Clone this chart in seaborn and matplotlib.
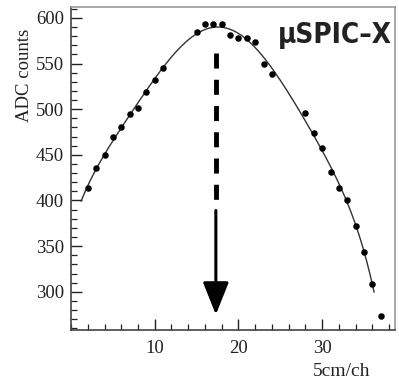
import numpy as np
import pandas as pd
import matplotlib
matplotlib.use('Agg')
import matplotlib.pyplot as plt
import seaborn as sns
from matplotlib.ticker import MultipleLocator

# channel (5cm/ch) and ADC counts
channel = [2, 3, 4, 5, 6, 7, 8, 9, 10, 11, 15, 16, 17, 18, 19, 20, 21, 22, 23, 24,
           28, 29, 30, 31, 32, 33, 34, 35, 36, 37]
adc = [414, 436, 450, 469, 481, 495, 501, 519, 532, 545, 584, 593, 593, 593, 581,
       578, 578, 574, 550, 538, 496, 474, 458, 431, 414, 400, 372, 344, 309, 273]

peak_pos = 17.3
label = '\u03bcSPIC\u2013X'

df = pd.DataFrame({'ch': channel, 'adc': adc})

# smooth fit through the points (last point is off the fit)
coef = np.polyfit(df['ch'][:-1], df['adc'][:-1], 6)
xf = np.linspace(1.2, 36.2, 200)
fit = pd.DataFrame({'ch': xf, 'adc': np.polyval(coef, xf)})

sns.set_style('ticks')
plt.rcParams['font.family'] = ['Liberation Serif', 'DejaVu Serif']

fig = plt.figure(figsize=[3.99, 3.83], dpi=100)
ax = fig.add_axes([0.178, 0.138, 0.812, 0.844])

sns.lineplot(data=fit, x='ch', y='adc', ax=ax, color='#333333', lw=1.0)
sns.scatterplot(data=df, x='ch', y='adc', ax=ax, color='black', s=22,
                edgecolor='black', linewidth=0, zorder=3)

# dashed marker + arrow at the peak
ax.plot([peak_pos, peak_pos], [561, 400], color='black', lw=3.5,
        ls=(0, (3.1, 2.3)), solid_capstyle='butt')
ax.annotate('', xy=(peak_pos, 275), xytext=(peak_pos, 389),
            arrowprops=dict(arrowstyle='-|>,head_length=1.0,head_width=0.4',
                            mutation_scale=20, lw=2.2, color='black',
                            shrinkA=0, shrinkB=0))

ax.set_xlim(0, 38.7)
ax.set_ylim(258, 612)
ax.set_xticks([10, 20, 30])
ax.xaxis.set_minor_locator(MultipleLocator(2))
ax.set_yticks([300, 350, 400, 450, 500, 550, 600])
ax.yaxis.set_minor_locator(MultipleLocator(10))
ax.tick_params(which='both', direction='in', top=False, right=False,
               colors='#222222', labelsize=13.5)
ax.tick_params(which='major', length=8, width=1.0, pad=5)
ax.tick_params(which='minor', length=4.5, width=0.9)
ax.tick_params(axis='x', pad=7)
for s in ['left', 'bottom']:
    ax.spines[s].set_color('#444444')
    ax.spines[s].set_linewidth(1.2)
for s in ['top', 'right']:
    ax.spines[s].set_color('#999999')
    ax.spines[s].set_linewidth(1.2)
ax.set_xlabel('')
ax.set_ylabel('')

fig.text(25 / 399, 1 - 75 / 383, 'ADC counts', rotation=90, ha='center',
         va='center', fontsize=13.5, color='#222222')
fig.text(342 / 399, 1 - 372 / 383, '5cm/ch', ha='center', va='center',
         fontsize=14, color='#222222')
ax.text(0.99, 0.913, label, transform=ax.transAxes, ha='right', va='center',
        fontsize=20, fontweight='bold', fontstretch='condensed',
        family=['DejaVu Sans'], color='#222222')

fig.savefig('out.png', dpi=100)
